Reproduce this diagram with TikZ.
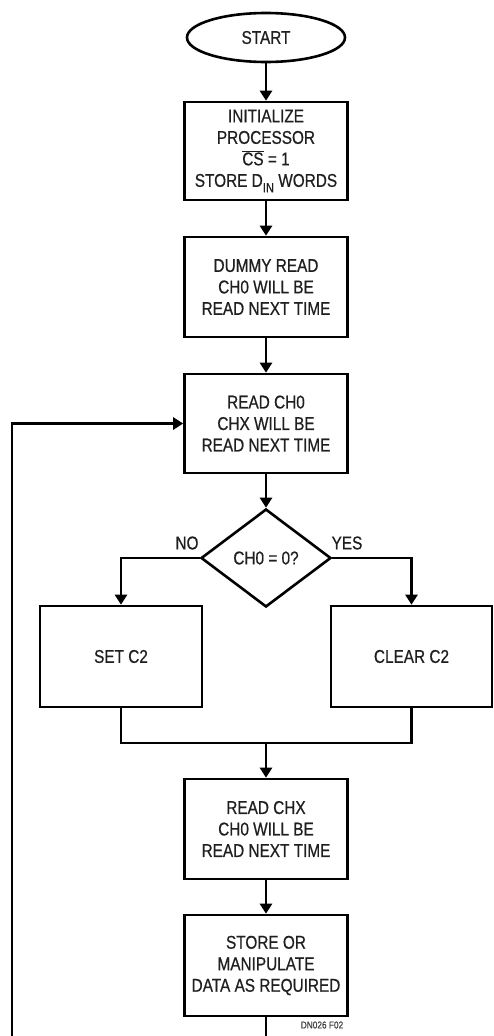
\documentclass[tikz,border=0pt]{standalone}
\usepackage{fontspec}
\setmainfont{Liberation Sans}[FakeStretch=0.83,FakeBold=0.6]
\usetikzlibrary{shapes.geometric,arrows.meta}
\begin{document}
\begin{tikzpicture}[x=1pt,y=-1pt,
  every node/.style={font=\fontsize{18.5}{21.5}\selectfont, text=black!88},
  procbox/.style={draw=black, line width=2.6pt, rectangle, align=center, inner sep=0pt, minimum width=163pt, minimum height=99pt},
  term/.style={draw=black, line width=2.6pt, ellipse, inner sep=0pt, minimum width=158pt, minimum height=49pt},
  decision/.style={draw=black, line width=2.6pt, diamond, aspect=1.33, inner sep=0pt, minimum width=130pt, minimum height=98pt},
  conn/.style={draw=black, line width=2.6pt},
  arr/.style={conn, -{Triangle[length=10pt,width=12pt]}}
]
\useasboundingbox (0,0) rectangle (494,1036);
\clip (0,0) rectangle (494,1036);

\node[term] (start) at (266,37.5) {START};
\node[procbox, minimum height=98pt] (init) at (266,151) {INITIALIZE\\PROCESSOR\\\(\overline{\mbox{CS}}\) = 1\\STORE D\raisebox{-0.3em}{\fontsize{13.5}{13.5}\selectfont IN} WORDS};
\node[procbox, minimum height=100pt] (dummy) at (266,287) {DUMMY READ\\CH0 WILL BE\\READ NEXT TIME};
\node[procbox] (read0) at (266,423.5) {READ CH0\\CHX WILL BE\\READ NEXT TIME};
\node[decision] (dec) at (266,558) {CH0 = 0?};
\node[procbox, minimum width=162pt, minimum height=101pt] (set) at (121,656.5) {SET C2};
\node[procbox, minimum width=161pt, minimum height=101pt] (clr) at (411.5,656.5) {CLEAR C2};
\node[procbox, minimum height=100pt] (readx) at (266,829) {READ CHX\\CH0 WILL BE\\READ NEXT TIME};
\node[procbox, minimum height=101pt] (store) at (266,965.5) {STORE OR\\MANIPULATE\\DATA AS REQUIRED};

\node (no) at (187,543) {NO};
\node (yes) at (347,543) {YES};
\node[font=\fontsize{10}{10}\selectfont, text=black!75] (fig) at (322,1025) {DN026 F02};

\coordinate (merge) at (266,743);
\coordinate (loopR) at (266,1050);
\coordinate (loopL) at (12,1050);

\draw[arr] (start) -- (init);
\draw[arr] (init) -- (dummy);
\draw[arr] (dummy) -- (read0);
\draw[arr] (read0) -- (dec);
\draw[arr] (dec.west) -| (set.north);
\draw[arr] (dec.east) -| (clr.north);
\draw[conn] (set.south) |- (merge) -| (clr.south);
\draw[arr] (merge) -- (readx);
\draw[arr] (readx) -- (store);
\draw[arr] (store.south) -- (loopR) -- (loopL) |- (read0.west);
\end{tikzpicture}
\end{document}
